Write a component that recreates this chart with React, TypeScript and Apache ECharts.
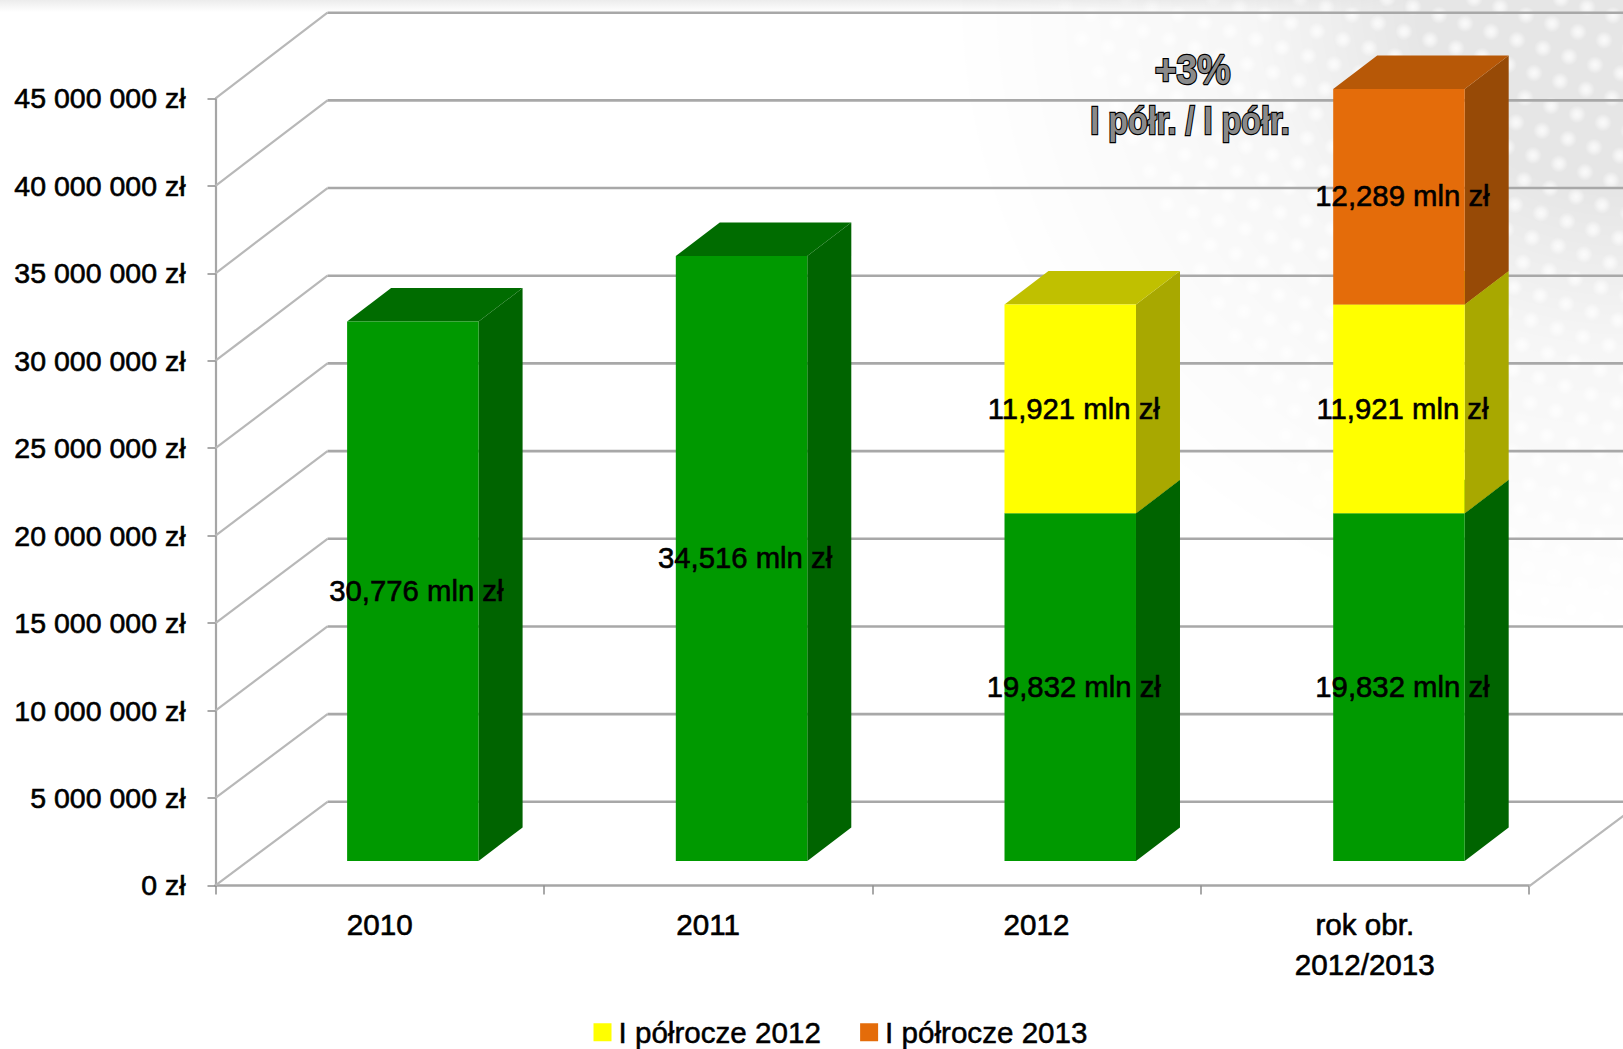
import React, { useEffect, useRef } from "react";
import * as echarts from "echarts";

const categories = ["2010", "2011", "2012", "rok obr.\n2012/2013"];
const yTicks = [0, 5e6, 10e6, 15e6, 20e6, 25e6, 30e6, 35e6, 40e6, 45e6];
const baseValues = [30776000, 34516000, 19832000, 19832000];
const h1of2012 = [null, null, 11921000, 11921000];
const h1of2013 = [null, null, null, 12289000];
const legendNames = ["I półrocze 2012", "I półrocze 2013"];

const FONT = '"Liberation Sans", Arial, sans-serif';
const W = 1623;
const H = 1049;

type Face = { front: string; side: string; top: string };
const GREEN: Face = { front: "#009900", side: "#006400", top: "#006c00" };
const YELLOW: Face = { front: "#ffff00", side: "#a8a800", top: "#c0c000" };
const ORANGE: Face = { front: "#e46c0a", side: "#974a06", top: "#b75807" };

const fmtAxis = (v: number) =>
  (v === 0 ? "0" : String(v).replace(/\B(?=(\d{3})+$)/g, " ")) + " zł";
const fmtLabel = (v: number) =>
  (v / 1e6).toFixed(3).replace(".", ",") + " mln zł";

function barItem(face: Face) {
  return (_p: any, api: any) => {
    const cat = api.value(0);
    const base = api.value(1);
    const val = api.value(2);
    const [cx, y0] = api.coord([cat, base]);
    const [, y1] = api.coord([cat, base + val]);
    const w = api.size([1, 0])[0] * 0.4;
    const l = cx - w / 2;
    const r = cx + w / 2;
    const dx = 44;
    const dy = -33.5;
    return {
      type: "group",
      children: [
        {
          type: "polygon",
          shape: { points: [[r, y0], [r + dx, y0 + dy], [r + dx, y1 + dy], [r, y1]] },
          style: { fill: face.side },
        },
        {
          type: "polygon",
          shape: { points: [[l, y1], [l + dx, y1 + dy], [r + dx, y1 + dy], [r, y1]] },
          style: { fill: face.top },
        },
        {
          type: "rect",
          shape: { x: l, y: y1, width: w, height: y0 - y1 },
          style: { fill: face.front },
        },
        {
          type: "text",
          x: cx + 3.5,
          y: (y0 + y1) / 2 - 0.7,
          z2: 50,
          style: {
            text: fmtLabel(val),
            font: `29.3px ${FONT}`,
            fill: "#000",
            stroke: "#000",
            lineWidth: 0.6,
            align: "center",
            verticalAlign: "middle",
          },
        },
      ],
    };
  };
}

function wallItem(_p: any, api: any) {
  const v = api.value(1);
  const [x, y] = api.coord([0, v]);
  const px = x - api.size([1, 0])[0] / 2;
  const bx = px + 112;
  const by = y - 83.6 - (2.1 * v) / 45e6;
  const children: any[] = [
    {
      type: "line",
      shape: { x1: px, y1: y, x2: bx, y2: by },
      style: { stroke: "#b8b8b8", lineWidth: 2.2 },
    },
    {
      type: "line",
      shape: { x1: bx, y1: by, x2: W + 10, y2: by },
      style: { stroke: "#a8a8a8", lineWidth: 2.6 },
    },
  ];
  if (v === 0) {
    const fx = px + api.size([1, 0])[0] * 4;
    children.push({
      type: "line",
      shape: { x1: fx, y1: y + 1, x2: fx + 112, y2: by + 1 },
      style: { stroke: "#b8b8b8", lineWidth: 2.2 },
    });
  }
  return { type: "group", children };
}

const stackData = (vals: (number | null)[], under: (number | null)[][]) =>
  vals
    .map((v, i) =>
      v == null ? null : [i, under.reduce((s, u) => s + (u[i] ?? 0), 0), v]
    )
    .filter(Boolean);

function Backdrop() {
  const dots: { x: number; y: number }[] = [];
  for (let i = -20; i < 60; i++) {
    for (let j = -30; j < 30; j++) {
      const x = 1517 + i * 26 + j * 17;
      const y = 40 + i * 8.3 + j * 33;
      if (x > 850 && x < W + 15 && y > -15 && y < 700) dots.push({ x, y });
    }
  }
  return (
    <svg
      width={W}
      height={H}
      style={{ position: "absolute", left: 0, top: 0 }}
      xmlns="http://www.w3.org/2000/svg"
    >
      <defs>
        <radialGradient id="fade" gradientUnits="userSpaceOnUse" cx={W} cy={0} r={1} gradientTransform={`translate(${W} 0) scale(680 640) translate(${-W} 0)`}>
          <stop offset="0" stopColor="#fff" stopOpacity="1" />
          <stop offset="0.3" stopColor="#fff" stopOpacity="1" />
          <stop offset="0.55" stopColor="#fff" stopOpacity="0.35" />
          <stop offset="1" stopColor="#fff" stopOpacity="0" />
        </radialGradient>
        <radialGradient id="dot">
          <stop offset="0" stopColor="#fff" stopOpacity="0.8" />
          <stop offset="0.45" stopColor="#fff" stopOpacity="0.55" />
          <stop offset="1" stopColor="#fff" stopOpacity="0" />
        </radialGradient>
        <linearGradient id="band" x1="0" y1="0" x2="0" y2="1">
          <stop offset="0" stopColor="#ececec" />
          <stop offset="1" stopColor="#ffffff" />
        </linearGradient>
        <mask id="fadeMask">
          <rect width={W} height={H} fill="url(#fade)" />
        </mask>
      </defs>
      <rect width={W} height={H} fill="#fff" />
      <rect width={W} height={12} fill="url(#band)" />
      <g mask="url(#fadeMask)">
        <rect width={W} height={H} fill="#e6e6e6" />
        {dots.map((d, k) => (
          <circle key={k} cx={d.x} cy={d.y} r={9} fill="url(#dot)" />
        ))}
      </g>
    </svg>
  );
}

export default function App() {
  const ref = useRef<HTMLDivElement>(null);
  useEffect(() => {
    document.body.style.margin = "0";
    const chart = echarts.init(ref.current!, null, { renderer: "svg" });
    const axisGrey = "#a6a6a6";
    chart.setOption({
      animation: false,
      backgroundColor: "transparent",
      textStyle: { fontFamily: FONT },
      grid: [
        { left: 215.5, width: 1313.5, top: 98.4, height: 787, containLabel: false },
        { left: 248.5, width: 1314.8, top: 72.2, height: 788.8, containLabel: false },
      ],
      xAxis: [
        {
          type: "category",
          gridIndex: 0,
          data: categories,
          axisLine: { lineStyle: { color: axisGrey, width: 2.6 } },
          axisTick: { show: true, length: 9, lineStyle: { color: "#8c8c8c", width: 1.5 } },
          axisLabel: {
            color: "#000",
            fontFamily: FONT,
            fontSize: 29.6,
            lineHeight: 40,
            margin: 19,
            textBorderColor: "#000",
            textBorderWidth: 0.6,
          },
        },
        {
          type: "category",
          gridIndex: 1,
          data: categories,
          show: false,
        },
      ],
      yAxis: [
        {
          type: "value",
          gridIndex: 0,
          min: 0,
          max: 45e6,
          interval: 5e6,
          splitLine: { show: false },
          axisLine: { show: true, lineStyle: { color: axisGrey, width: 2.2 } },
          axisTick: { show: true, length: 8, lineStyle: { color: "#8c8c8c", width: 1.5 } },
          axisLabel: {
            color: "#000",
            fontFamily: FONT,
            fontSize: 28.5,
            margin: 30,
            formatter: (v: number) => fmtAxis(v),
            textBorderColor: "#000",
            textBorderWidth: 0.6,
          },
        },
        {
          type: "value",
          gridIndex: 1,
          min: 0,
          max: 45e6,
          interval: 5e6,
          show: false,
          splitLine: { show: false },
        },
      ],
      legend: {
        show: true,
        data: legendNames,
        left: 593.5,
        top: 1017,
        padding: 0,
        itemWidth: 18,
        itemHeight: 18,
        itemGap: 39,
        icon: "rect",
        selectedMode: false,
        textStyle: { color: "#000", fontFamily: FONT, fontSize: 29.6, padding: [0, 0, 0, 2], textBorderColor: "#000", textBorderWidth: 0.5 },
      },
      series: [
        {
          type: "custom",
          name: "wall",
          xAxisIndex: 0,
          yAxisIndex: 0,
          z: 1,
          silent: true,
          renderItem: wallItem,
          encode: { x: 0, y: 1 },
          data: yTicks.map((v) => [0, v]),
        },
        {
          type: "custom",
          name: "Rok",
          xAxisIndex: 1,
          yAxisIndex: 1,
          z: 3,
          itemStyle: { color: GREEN.front },
          renderItem: barItem(GREEN),
          encode: { x: 0, y: 1 },
          data: stackData(baseValues, []),
        },
        {
          type: "custom",
          name: legendNames[0],
          xAxisIndex: 1,
          yAxisIndex: 1,
          z: 4,
          itemStyle: { color: YELLOW.front },
          renderItem: barItem(YELLOW),
          encode: { x: 0, y: 1 },
          data: stackData(h1of2012, [baseValues]),
        },
        {
          type: "custom",
          name: legendNames[1],
          xAxisIndex: 1,
          yAxisIndex: 1,
          z: 5,
          itemStyle: { color: ORANGE.front },
          renderItem: barItem(ORANGE),
          encode: { x: 0, y: 1 },
          data: stackData(h1of2013, [baseValues, h1of2012]),
        },
      ],
      graphic: [
        {
          type: "text",
          x: 1192.6,
          y: 70,
          scaleX: 0.87,
          z: 100,
          style: {
            text: "+3%",
            font: `bold 43px ${FONT}`,
            fill: "#8a8a8a",
            stroke: "#000",
            lineWidth: 2.5,
            align: "center",
            verticalAlign: "middle",
          },
        },
        {
          type: "text",
          x: 1190,
          y: 121,
          scaleX: 0.83,
          z: 100,
          style: {
            text: "I półr. / I półr.",
            font: `bold 39px ${FONT}`,
            fill: "#8a8a8a",
            stroke: "#000",
            lineWidth: 2.5,
            align: "center",
            verticalAlign: "middle",
          },
        },
      ],
    });
    return () => chart.dispose();
  }, []);
  return (
    <div style={{ position: "absolute", left: 0, top: 0, width: W, height: H, overflow: "hidden" }}>
      <Backdrop />
      <div ref={ref} style={{ position: "absolute", left: 0, top: 0, width: W, height: H }} />
    </div>
  );
}
